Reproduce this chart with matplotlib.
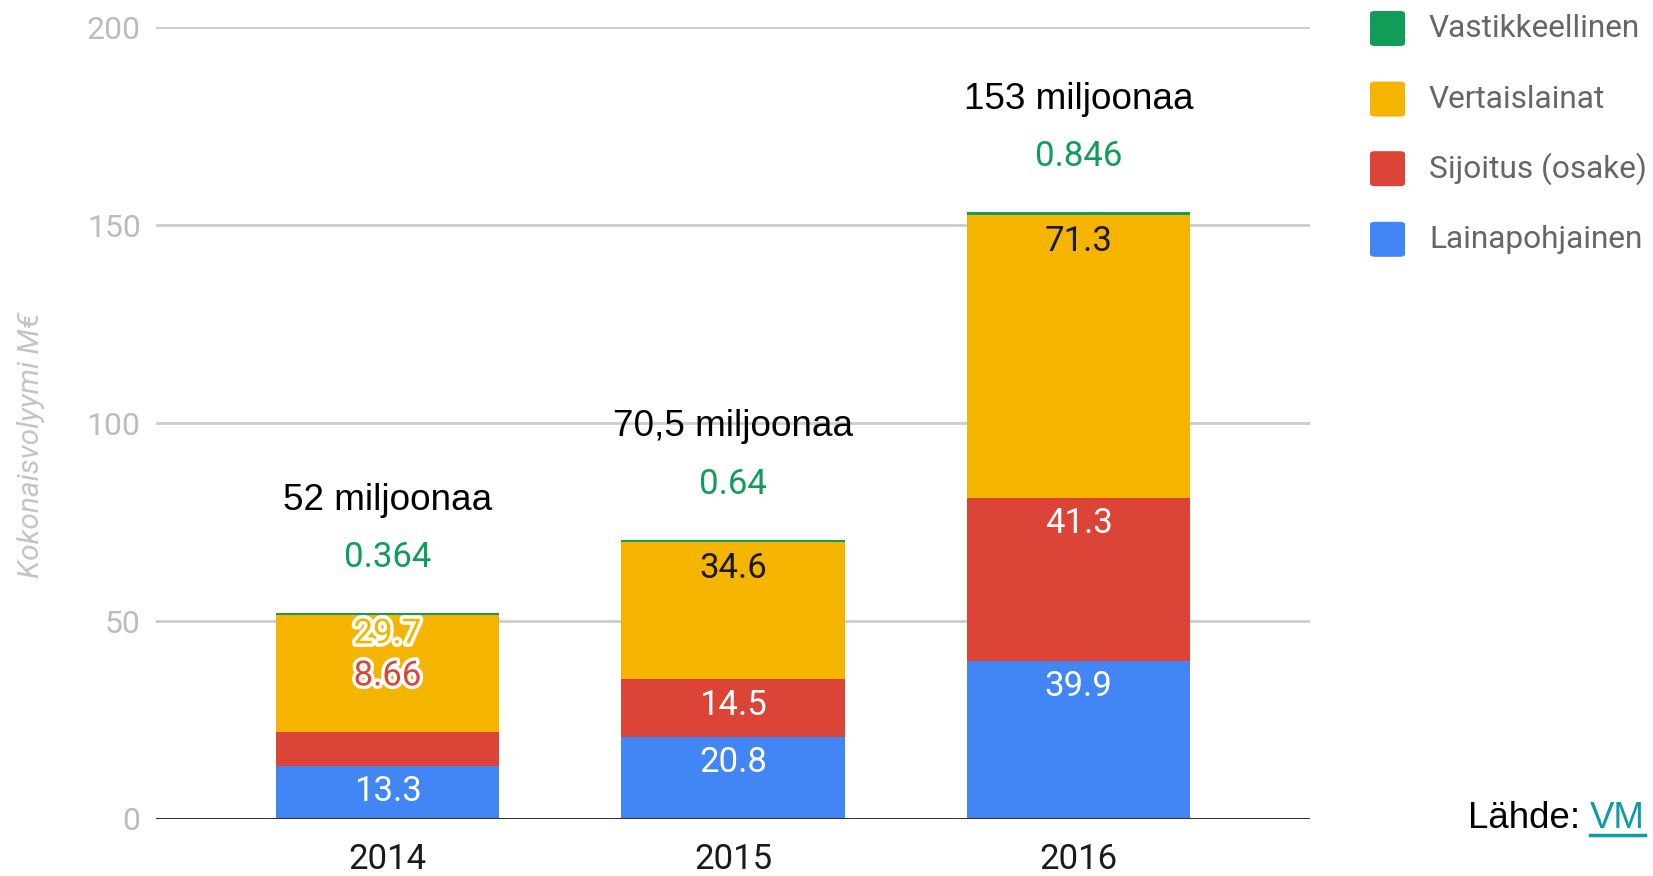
import matplotlib
matplotlib.use("Agg")
import matplotlib.pyplot as plt
import matplotlib.patheffects as pe
from matplotlib.patches import FancyBboxPatch
import numpy as np

years = ["2014", "2015", "2016"]
series_names = ["Lainapohjainen", "Sijoitus (osake)", "Vertaislainat", "Vastikkeellinen"]
lainapohjainen = [13.3, 20.8, 39.9]
sijoitus = [8.66, 14.5, 41.3]
vertaislainat = [29.7, 34.6, 71.3]
vastikkeellinen = [0.364, 0.64, 0.846]
totals_text = ["52 miljoonaa", "70,5 miljoonaa", "153 miljoonaa"]
yticks = [0, 50, 100, 150, 200]

colors = ["#4285f4", "#db4437", "#f4b400", "#0f9d58"]
label_colors = ["white", "white", "#1a1a1a", "#0f9d58"]

W, H = 1653, 876
fig = plt.figure(figsize=(W / 100, H / 100), dpi=100)
ax = fig.add_axes([156 / W, 1 - 819 / H, (1310 - 156) / W, (819 - 27.4) / H])

x = np.arange(len(years))
series = [lainapohjainen, sijoitus, vertaislainat, vastikkeellinen]
bottom = np.zeros(len(years))
tops = []
for vals, c in zip(series, colors):
    ax.bar(x, vals, bottom=bottom, width=0.646, color=c, zorder=3)
    bottom = bottom + np.array(vals)
    tops.append(bottom.copy())
totals = bottom

ax.set_xlim(-0.67, 2.67)
ax.set_ylim(0, 200)
ax.set_yticks(yticks)
ax.set_yticklabels([str(t) for t in yticks], fontsize=23, color="#bcbcbc", family="Roboto")
ax.set_xticks(x)
ax.set_xticklabels(years, fontsize=25, color="#1a1a1a", family="Roboto")
ax.tick_params(axis="both", length=0)
ax.tick_params(axis="x", pad=17)
ax.tick_params(axis="y", pad=11)
for s in ax.spines.values():
    s.set_visible(False)
for t in yticks[1:]:
    ax.axhline(t, color="#cccccc", lw=2, zorder=1)
ax.axhline(0, color="#333333", lw=2.2, zorder=4)

ax.text(29.5 * 1653 / 1568 / W, 1 - (422 * 1653 / 1568) / H, "Kokonaisvolyymi M€",
        transform=fig.transFigure, rotation=90, ha="center", va="center",
        fontsize=21.5, color="#c4c4c4", style="italic", family="Roboto")

fs_in = 25
for i in range(len(years)):
    ax.text(x[i], totals[i] + 14, f"{vastikkeellinen[i]:g}", ha="center", va="center",
            fontsize=fs_in, color=label_colors[3], family="Roboto")
    ax.text(x[i], totals[i] + 28.5, totals_text[i], ha="center", va="center",
            fontsize=26.6, color="black", family="Liberation Sans")
    if i == 0:
        ax.text(x[i], tops[2][i] - 4.9, f"{vertaislainat[i]:g}", ha="center", va="center",
                fontsize=fs_in, color="#f4b400", family="Roboto",
                path_effects=[pe.withStroke(linewidth=5, foreground="white")])
        ax.text(x[i], tops[2][i] - 15.5, f"{sijoitus[i]:g}", ha="center", va="center",
                fontsize=fs_in, color="#db4437", family="Roboto",
                path_effects=[pe.withStroke(linewidth=5, foreground="white")])
        ax.text(x[i], tops[0][i] - 6.4, f"{lainapohjainen[i]:g}", ha="center", va="center",
                fontsize=fs_in, color="white", family="Roboto")
    else:
        for k in range(3):
            ax.text(x[i], tops[k][i] - 6.5, f"{series[k][i]:g}", ha="center", va="center",
                    fontsize=fs_in, color=label_colors[k], family="Roboto")

# legend
s_ = 1653 / 1568
leg_y = [v * s_ for v in [27, 94, 160, 227]]
leg_order = [3, 2, 1, 0]
sq = 35
for yy, k in zip(leg_y, leg_order):
    p = FancyBboxPatch((1370 / W, 1 - (yy + sq / 2) / H), sq / W, sq / H,
                       boxstyle="round,pad=0,rounding_size=0.003",
                       transform=fig.transFigure, facecolor=colors[k], edgecolor="none")
    fig.patches.append(p)
    fig.text(1429 / W, 1 - yy / H, series_names[k], ha="left", va="center",
             fontsize=22.8, color="#666666", family="Roboto")

# source
t1 = fig.text(1468 / W, 1 - 819 / H, "Lähde: ", ha="left", va="center",
              fontsize=26.4, color="black", family="Liberation Sans")
fig.canvas.draw()
bb = t1.get_window_extent()
t2 = fig.text(bb.x1 / W, 1 - 819 / H, "VM", ha="left", va="center",
              fontsize=26.4, color="#0f9aa8", family="Liberation Sans")
bb2 = t2.get_window_extent()
fig.add_artist(plt.Line2D([bb2.x0 / W, bb2.x1 / W], [(bb2.y0 + 2) / H, (bb2.y0 + 2) / H],
                          color="#0f9aa8", lw=2.5, transform=fig.transFigure))

fig.savefig("out.png", dpi=100, facecolor="white")
